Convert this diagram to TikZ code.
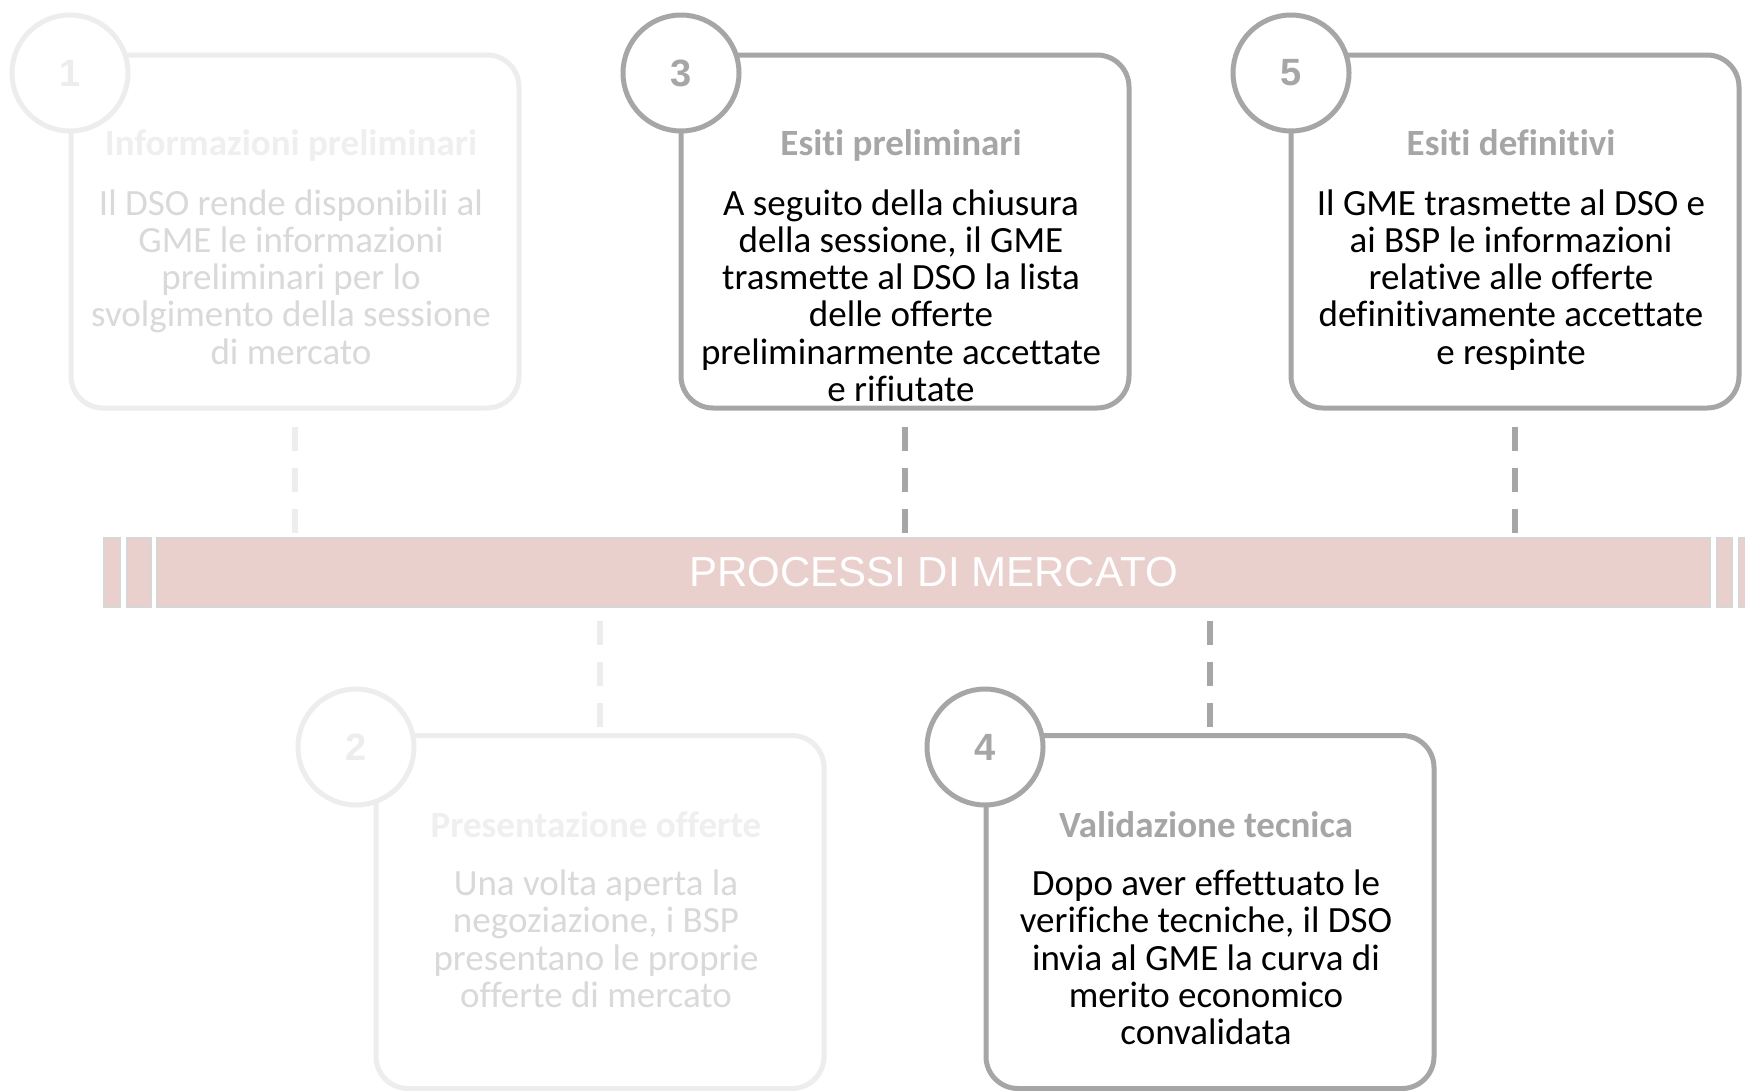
\documentclass[tikz,border=0pt]{standalone}
\usepackage{fontspec}
\setmainfont{Carlito}[Ligatures=NoCommon]
\newfontfamily\arialf{Liberation Sans}
\definecolor{act}{HTML}{A6A6A6}
\definecolor{fade}{HTML}{EDEDED}
\definecolor{fadetext}{HTML}{D9D9D9}
\definecolor{fadetitle}{HTML}{EFEFEF}
\definecolor{barfill}{HTML}{EAD0CC}
\definecolor{barline}{HTML}{D6D6D6}
\newcommand{\firstl}{\rule{0pt}{30pt}}
\tikzset{
  stepbox/.style={draw=#1, line width=5pt, rounded corners=32pt, minimum width=448pt, minimum height=353pt, inner sep=0pt},
  stepnum/.style={circle, draw=#1, fill=white, line width=5pt, minimum size=116pt, inner sep=0pt, text=#1, font=\arialf\bfseries\fontsize{38}{38}\selectfont},
  steptitle/.style={anchor=base, text=#1, font=\bfseries\fontsize{37}{37.2}\selectfont, inner sep=0pt},
  stepbody/.style={anchor=north, align=center, text=#1, font=\fontsize{37}{37.2}\selectfont, inner sep=0pt},
  dashline/.style={draw=#1, line width=5.5pt, dash pattern=on 24pt off 17pt},
  barpiece/.style={fill=barfill, draw=barline, line width=2pt}
}
\begin{document}
\begin{tikzpicture}[x=1pt,y=-1pt]
\useasboundingbox (0,0) rectangle (1745,1090);
\fill[white] (0,0) rectangle (1745,1090);

% bar
\node[barpiece, minimum width=1553pt, minimum height=69pt, inner sep=0pt,
      text=white, font=\arialf\fontsize{42}{42}\selectfont] (bar) at (933.5,572.5) {PROCESSI DI MERCATO};
\node[barpiece, minimum width=16pt, minimum height=69pt, inner sep=0pt] (bl1) at (112,572.5) {};
\node[barpiece, minimum width=24pt, minimum height=69pt, inner sep=0pt] (bl2) at (139,572.5) {};
\node[barpiece, minimum width=15pt, minimum height=69pt, inner sep=0pt] (br1) at (1724.5,572.5) {};
\node[barpiece, minimum width=20pt, minimum height=69pt, inner sep=0pt] (br2) at (1749,572.5) {};

% boxes
\node[stepbox=fade] (b1) at (295,231.5) {};
\node[stepbox=act]  (b3) at (905,231.5) {};
\node[stepbox=act]  (b5) at (1515,231.5) {};
\node[stepbox=fade] (b2) at (600,912) {};
\node[stepbox=act]  (b4) at (1210,912) {};

% circles
\node[stepnum=fade] (n1) at (70,73) {1};
\node[stepnum=act]  (n3) at (681,73) {3};
\node[stepnum=act]  (n5) at (1291,73) {5};
\node[stepnum=fade] (n2) at (356,747) {2};
\node[stepnum=act]  (n4) at (985,747) {4};

% titles
\node[steptitle=fadetitle] (t1) at (291,155.5) {Informazioni preliminari};
\node[steptitle=act] (t3) at (901,155.5) {Esiti preliminari};
\node[steptitle=act] (t5) at (1511,155.5) {Esiti definitivi};
\node[steptitle=fadetitle] (t2) at (596,837) {Presentazione offerte};
\node[steptitle=act] (t4) at (1206,837) {Validazione tecnica};

% bodies
\node[stepbody=fadetext] (d1) at (291,185) {\firstl Il DSO rende disponibili al\\GME le informazioni\\preliminari per lo\\svolgimento della sessione\\di mercato};
\node[stepbody=black] (d3) at (901,185) {\firstl A seguito della chiusura\\della sessione, il GME\\trasmette al DSO la lista\\delle offerte\\preliminarmente accettate\\e rifiutate};
\node[stepbody=black] (d5) at (1511,185) {\firstl Il GME trasmette al DSO e\\ai BSP le informazioni\\relative alle offerte\\definitivamente accettate\\e respinte};
\node[stepbody=fadetext] (d2) at (596,865.5) {\firstl Una volta aperta la\\negoziazione, i BSP\\presentano le proprie\\offerte di mercato};
\node[stepbody=black] (d4) at (1206,865.5) {\firstl Dopo aver effettuato le\\verifiche tecniche, il DSO\\invia al GME la curva di\\merito economico\\convalidata};

% dashed connectors
\coordinate (u1) at (b1.south |- bar.north);
\coordinate (u3) at (b3.south |- bar.north);
\coordinate (u5) at (b5.south |- bar.north);
\coordinate (l2) at (b2.north |- bar.south);
\coordinate (l4) at (b4.north |- bar.south);
\draw[dashline=fade] ([yshift=-16.5pt]b1.south) -- ([yshift=3pt]u1);
\draw[dashline=act]  ([yshift=-16.5pt]b3.south) -- ([yshift=3pt]u3);
\draw[dashline=act]  ([yshift=-16.5pt]b5.south) -- ([yshift=3pt]u5);
\draw[dashline=fade] ([yshift=-13pt]l2) -- ([yshift=5pt]b2.north);
\draw[dashline=act]  ([yshift=-13pt]l4) -- ([yshift=5pt]b4.north);
\end{tikzpicture}
\end{document}
